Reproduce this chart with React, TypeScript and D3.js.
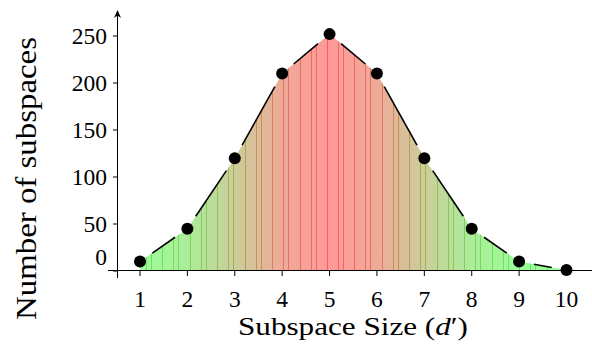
import React from "react";
import * as d3 from "d3";

const sizes = [1, 2, 3, 4, 5, 6, 7, 8, 9, 10];
const counts = [10, 45, 120, 210, 252, 210, 120, 45, 10, 1];
const xTicks = [1, 2, 3, 4, 5, 6, 7, 8, 9, 10];
const yTicks = [0, 50, 100, 150, 200, 250];

const W = 592;
const H = 356;
const FONT = "'Liberation Serif', 'Times New Roman', serif";

export default function App() {
  const x = d3.scaleLinear().domain([1, 10]).range([140, 566.5]);
  const y = d3.scaleLinear().domain([0, 250]).range([271, 36]);
  const maxV = d3.max(counts) as number;
  const fillCol = d3.interpolateRgb("#99ff99", "#ff9999");
  const stripeCol = d3.interpolateRgb("#5cf05c", "#ff5c5c");

  const pts = sizes.map((s, i) => ({ s, v: counts[i] }));
  const area = d3
    .area<{ s: number; v: number }>()
    .x((d) => x(d.s))
    .y0(y(0))
    .y1((d) => y(d.v))(pts) as string;

  // decorative mesh lines of the shading
  const stripes: number[] = [];
  const period = 0.58;
  const offs = [0, 0.232, 0.338];
  for (let b = 2.046 - period * 2; b < 10; b += period) {
    for (const o of offs) {
      const v = b + o;
      if (v > 1.05 && v < 9.95) stripes.push(v);
    }
  }

  const gap = 15;
  const segs = pts.slice(0, -1).map((p, i) => {
    const q = pts[i + 1];
    const x1 = x(p.s), y1 = y(p.v), x2 = x(q.s), y2 = y(q.v);
    const L = Math.hypot(x2 - x1, y2 - y1);
    const ux = (x2 - x1) / L, uy = (y2 - y1) / L;
    return {
      x1: x1 + ux * gap,
      y1: y1 + uy * gap,
      x2: x2 - ux * gap,
      y2: y2 - uy * gap,
    };
  });

  const x0 = x(1), x1 = x(10);

  return (
    <svg width={W} height={H} style={{ position: "absolute", left: 0, top: 0 }}>
      <defs>
        <linearGradient id="fillGrad" gradientUnits="userSpaceOnUse" x1={x0} y1={0} x2={x1} y2={0}>
          {pts.map((p, i) => (
            <stop key={i} offset={(x(p.s) - x0) / (x1 - x0)} stopColor={fillCol(p.v / maxV)} />
          ))}
        </linearGradient>
        <linearGradient id="stripeGrad" gradientUnits="userSpaceOnUse" x1={x0} y1={0} x2={x1} y2={0}>
          {pts.map((p, i) => (
            <stop key={i} offset={(x(p.s) - x0) / (x1 - x0)} stopColor={stripeCol(p.v / maxV)} />
          ))}
        </linearGradient>
        <clipPath id="areaClip">
          <path d={area} />
        </clipPath>
      </defs>

      <path d={area} fill="url(#fillGrad)" />
      <g clipPath="url(#areaClip)">
        {stripes.map((s, i) => (
          <rect key={i} x={Math.round(x(s))} y={0} width={1} height={y(0)} fill="url(#stripeGrad)" />
        ))}
      </g>

      {/* axes */}
      <line x1={108} x2={W} y1={270.5} y2={270.5} stroke="#000" strokeWidth={1} />
      <line x1={117.5} x2={117.5} y1={278} y2={14} stroke="#000" strokeWidth={1} />
      <path d="M117.5,10 L114,18 L117.5,15.5 L121,18 Z" fill="#000" />

      {yTicks.map((t) => (
        <g key={t}>
          <line x1={113} x2={117.5} y1={y(t)} y2={y(t)} stroke="#000" />
          <text
            x={107}
            y={t === 0 ? y(t) - 6 : y(t) + 7.5}
            textAnchor="end"
            fontFamily={FONT}
            fontSize={23.5}
            fill="#000"
          >
            {t}
          </text>
        </g>
      ))}
      {xTicks.map((t) => (
        <g key={t}>
          <line x1={x(t)} x2={x(t)} y1={270.5} y2={276} stroke="#000" />
          <text x={x(t)} y={307} textAnchor="middle" fontFamily={FONT} fontSize={23.5} fill="#000">
            {t}
          </text>
        </g>
      ))}

      {/* line */}
      {segs.map((g, i) => (
        <line key={i} x1={g.x1} y1={g.y1} x2={g.x2} y2={g.y2} stroke="#000" strokeWidth={1.6} />
      ))}
      {pts.map((p, i) => (
        <circle key={i} cx={x(p.s)} cy={y(p.v)} r={6} fill="#000" />
      ))}

      {/* labels */}
      <text
        x={353}
        y={335}
        textAnchor="middle"
        fontFamily={FONT}
        fontSize={26}
        textLength={230}
        lengthAdjust="spacingAndGlyphs"
        fill="#000"
      >
        Subspace Size (<tspan fontStyle="italic">d</tspan>′)
      </text>
      <text
        transform="translate(36,178.5) rotate(-90)"
        textAnchor="middle"
        fontFamily={FONT}
        fontSize={30}
        textLength={283}
        lengthAdjust="spacingAndGlyphs"
        fill="#000"
      >
        Number of subspaces
      </text>
    </svg>
  );
}
